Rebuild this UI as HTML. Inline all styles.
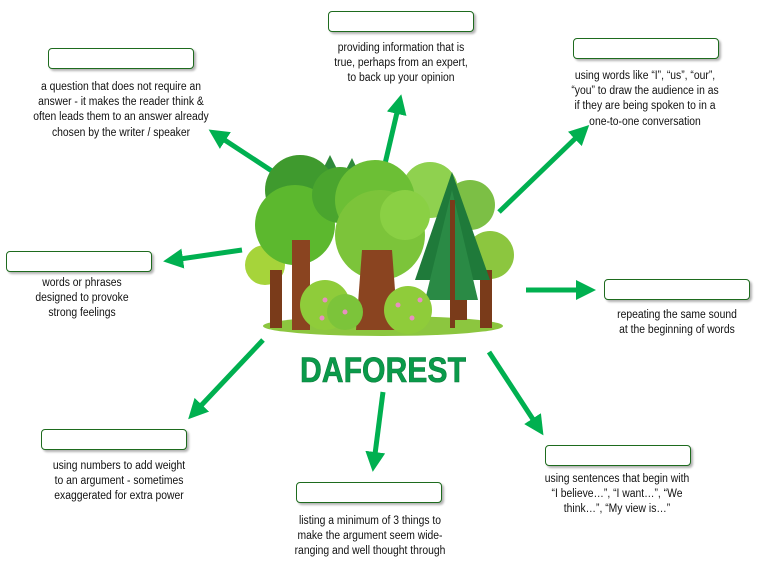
<!DOCTYPE html>
<html><head><meta charset="utf-8"><style>
body{margin:0;width:763px;height:569px;background:#fff;position:relative;overflow:hidden;font-family:"Liberation Sans",sans-serif}
.b{position:absolute;width:144px;height:19px;border:1px solid #1e6b1e;border-radius:4px;background:#fff;box-shadow:2px 2px 2px rgba(0,0,0,.3)}
.t{position:absolute;width:240px;text-align:center;font-size:11.5px;line-height:15.2px;color:#111;transform:scaleX(.9);transform-origin:center top}
svg{position:absolute;left:0;top:0}
</style></head><body>
<svg width="763" height="569">
<defs><marker id="a" markerWidth="4" markerHeight="4" refX="2" refY="2" orient="auto" markerUnits="strokeWidth"><path d="M0,0L4,2L0,4z" fill="#00b050"/></marker></defs>
<g stroke="#00b050" stroke-width="5" marker-end="url(#a)">
<line x1="384" y1="168" x2="399" y2="104"/>
<line x1="281" y1="177" x2="217" y2="135"/>
<line x1="499" y1="212" x2="582" y2="132"/>
<line x1="242" y1="250" x2="173" y2="260"/>
<line x1="526" y1="290" x2="586" y2="290"/>
<line x1="263" y1="340" x2="195" y2="412"/>
<line x1="383" y1="392" x2="374" y2="462"/>
<line x1="489" y1="352" x2="538" y2="427"/>
</g>
<ellipse cx="383" cy="326" rx="120" ry="10" fill="#8cc63f"/>
<g>
<path d="M330 155 L345 185 L315 185Z M352 158 L365 185 L338 185Z" fill="#2f8a3a"/>
<circle cx="265" cy="265" r="20" fill="#a6d43a"/>
<circle cx="490" cy="255" r="24" fill="#8cc63f"/>
<circle cx="430" cy="190" r="28" fill="#8fd14f"/>
<circle cx="470" cy="205" r="25" fill="#7cbf45"/>
<circle cx="300" cy="190" r="35" fill="#3f9a2e"/>
<circle cx="295" cy="225" r="40" fill="#5cb82e"/>
<circle cx="340" cy="195" r="28" fill="#4aa52e"/>
<rect x="270" y="270" width="12" height="58" fill="#7a3b1a"/>
<rect x="292" y="240" width="18" height="90" fill="#8a4420"/>
<rect x="480" y="270" width="12" height="58" fill="#7a3b1a"/>
<rect x="455" y="250" width="12" height="70" fill="#7a3b1a"/>
<circle cx="375" cy="200" r="40" fill="#6cbf35"/>
<circle cx="380" cy="235" r="45" fill="#7cc43a"/>
<circle cx="405" cy="215" r="25" fill="#8ad044"/>
<path d="M362 250 L392 250 L398 330 L356 330Z" fill="#8a4420"/>
<path d="M452 172 L490 280 L415 280 Z" fill="#1f7a3a"/>
<path d="M452 190 L478 300 L425 300 Z" fill="#2a8a45"/>
<rect x="450" y="200" width="5" height="128" fill="#7a3b1a"/>
<circle cx="325" cy="305" r="25" fill="#8fcc3a"/>
<circle cx="345" cy="312" r="18" fill="#7cc43a"/>
<circle cx="408" cy="310" r="24" fill="#8fcc3a"/>
<circle cx="325" cy="300" r="2.5" fill="#e88fc0"/><circle cx="345" cy="312" r="2.5" fill="#e88fc0"/><circle cx="322" cy="318" r="2.5" fill="#e88fc0"/>
<circle cx="398" cy="305" r="2.5" fill="#e88fc0"/><circle cx="412" cy="318" r="2.5" fill="#e88fc0"/><circle cx="420" cy="300" r="2.5" fill="#e88fc0"/>
</g>
<text x="383" y="382" text-anchor="middle" font-family="Liberation Sans" font-weight="bold" font-size="35" fill="#0a9a4a" stroke="#0a7a3a" stroke-width="0.6" textLength="166" lengthAdjust="spacingAndGlyphs">DAFOREST</text>
</svg>
<div class="b" style="left:328px;top:11px"></div>
<div class="t" style="left:281px;top:41px">providing information that is<br>true, perhaps from an expert,<br>to back up your opinion</div>
<div class="b" style="left:48px;top:48px"></div>
<div class="t" style="left:1px;top:80px">a question that does not require an<br>answer - it makes the reader think &amp;<br>often leads them to an answer already<br>chosen by the writer / speaker</div>
<div class="b" style="left:573px;top:38px"></div>
<div class="t" style="left:525px;top:69px">using words like “I”, “us”, “our”,<br>“you” to draw the audience in as<br>if they are being spoken to in a<br>one-to-one conversation</div>
<div class="b" style="left:6px;top:251px"></div>
<div class="t" style="left:-38px;top:276px">words or phrases<br>designed to provoke<br>strong feelings</div>
<div class="b" style="left:604px;top:279px"></div>
<div class="t" style="left:557px;top:308px">repeating the same sound<br>at the beginning of words</div>
<div class="b" style="left:41px;top:429px"></div>
<div class="t" style="left:-1px;top:459px">using numbers to add weight<br>to an argument - sometimes<br>exaggerated for extra power</div>
<div class="b" style="left:296px;top:482px"></div>
<div class="t" style="left:250px;top:514px">listing a minimum of 3 things to<br>make the argument seem wide-<br>ranging and well thought through</div>
<div class="b" style="left:545px;top:445px"></div>
<div class="t" style="left:497px;top:472px">using sentences that begin with<br>“I believe…”, “I want…”, “We<br>think…”, “My view is…”</div>
</body></html>
